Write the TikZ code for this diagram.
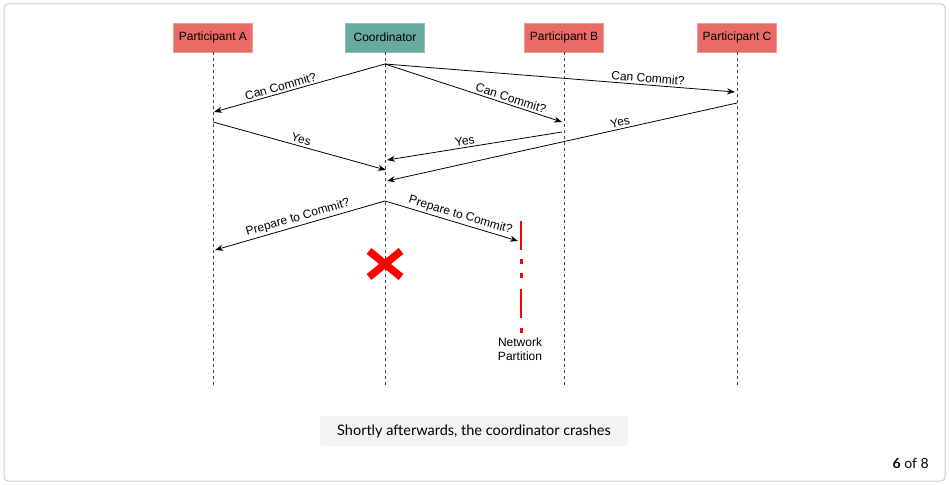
\documentclass[tikz,border=0pt]{standalone}
\usepackage{fontspec}
\setmainfont{Liberation Sans}
\newfontfamily\capfont{Lato}
\usetikzlibrary{arrows.meta}
\definecolor{pred}{HTML}{EA6B66}
\definecolor{predl}{HTML}{F19C99}
\definecolor{cgreen}{HTML}{67AB9F}
\definecolor{cgreenl}{HTML}{8CC4BA}
\definecolor{framec}{HTML}{CCCCCC}
\definecolor{capbg}{HTML}{F3F3F3}
\definecolor{xred}{HTML}{FF0000}
\tikzset{
  x=1pt,y=-1pt,
  actor/.style={draw=#1l,fill=#1,line width=0.8pt,minimum width=79pt,minimum height=29pt,inner sep=0pt,font=\fontsize{12}{14}\selectfont},
  life/.style={dash pattern=on 3pt off 3pt,line width=0.9pt,draw=black!75},
  msg/.style={-{Stealth[length=8pt,width=6pt]},line width=0.8pt},
  lbl/.style={sloped,above,font=\fontsize{12}{14}\selectfont,inner sep=2pt},
  part/.style={line width=2pt,draw=xred}
}
\begin{document}
\begin{tikzpicture}
\useasboundingbox (0,0) rectangle (949,484);
\draw[framec,line width=1pt,rounded corners=4pt] (4,4) rectangle (945,481);
% actors
\node[actor=pred] (A) at (213,37.5) {Participant A};
\node[actor=cgreen] (K) at (385,37.5) {Coordinator};
\node[actor=pred] (B) at (564,37.5) {Participant B};
\node[actor=pred] (C) at (737,37.5) {Participant C};
\coordinate (Ae) at (213,388);
\coordinate (Ke) at (385,388);
\coordinate (Be) at (564,388);
\coordinate (Ce) at (737,388);
\draw[life] (A.south) -- (Ae);
\draw[life] (K.south) -- (Ke);
\draw[life] (B.south) -- (Be);
\draw[life] (C.south) -- (Ce);
% message points
\coordinate (k1) at (385,64);
\coordinate (a1) at (214,112);
\coordinate (b1) at (562,122);
\coordinate (c1) at (735,92);
\coordinate (a2) at (213,122);
\coordinate (b2) at (562,132);
\coordinate (c2) at (737,103);
\coordinate (k2) at (386,170);
\coordinate (k3) at (387,160);
\coordinate (k4) at (387,181);
\coordinate (k5) at (385,201);
\coordinate (a3) at (215,250);
\coordinate (p1) at (518,241);
\draw[msg] (k1) -- node[lbl,pos=0.6] {Can Commit?} (a1);
\draw[msg] (k1) -- node[lbl,pos=0.75] {Can Commit?} (c1);
\draw[msg] (k1) -- node[lbl,pos=0.7] {Can Commit?} (b1);
\draw[msg] (a2) -- node[lbl,pos=0.5] {Yes} (k2);
\draw[msg] (b2) -- node[lbl,pos=0.55] {Yes} (k3);
\draw[msg] (c2) -- node[lbl,pos=0.33] {Yes} (k4);
\draw[msg] (k5) -- node[lbl,pos=0.5] {Prepare to Commit?} (a3);
\draw[msg] (k5) -- node[lbl,pos=0.55] {Prepare to Commit?} (p1);
% crash X
\node[inner sep=0pt,minimum size=30pt] (X) at (385,264) {};
\draw[xred,line width=7.5pt] (369,251) -- (401,277);
\draw[xred,line width=7.5pt] (401,251) -- (369,277);
% network partition
\coordinate (n1) at (521,221);
\coordinate (n2) at (521,250);
\coordinate (n3) at (521,289);
\coordinate (n4) at (521,318);
\draw[part] (n1) -- (n2);
\fill[xred] (519.5,259) rectangle (522.5,264);
\fill[xred] (519.5,273) rectangle (522.5,278);
\draw[part] (n3) -- (n4);
\fill[xred] (519.5,328) rectangle (522.5,333);
\node[align=center,font=\fontsize{12}{13.5}\selectfont,inner sep=0pt] (np) at (520,349) {Network\\Partition};
% caption
\node[fill=capbg,rounded corners=3pt,minimum width=308pt,minimum height=30pt,inner sep=0pt,font=\capfont\fontsize{14.5}{17}\selectfont] (cap) at (474,431) {Shortly afterwards, the coordinator crashes};
\node[anchor=east,font=\capfont\fontsize{14}{16}\selectfont,inner sep=0pt] (pg) at (929,463) {\textbf{6} of 8};
\end{tikzpicture}
\end{document}
